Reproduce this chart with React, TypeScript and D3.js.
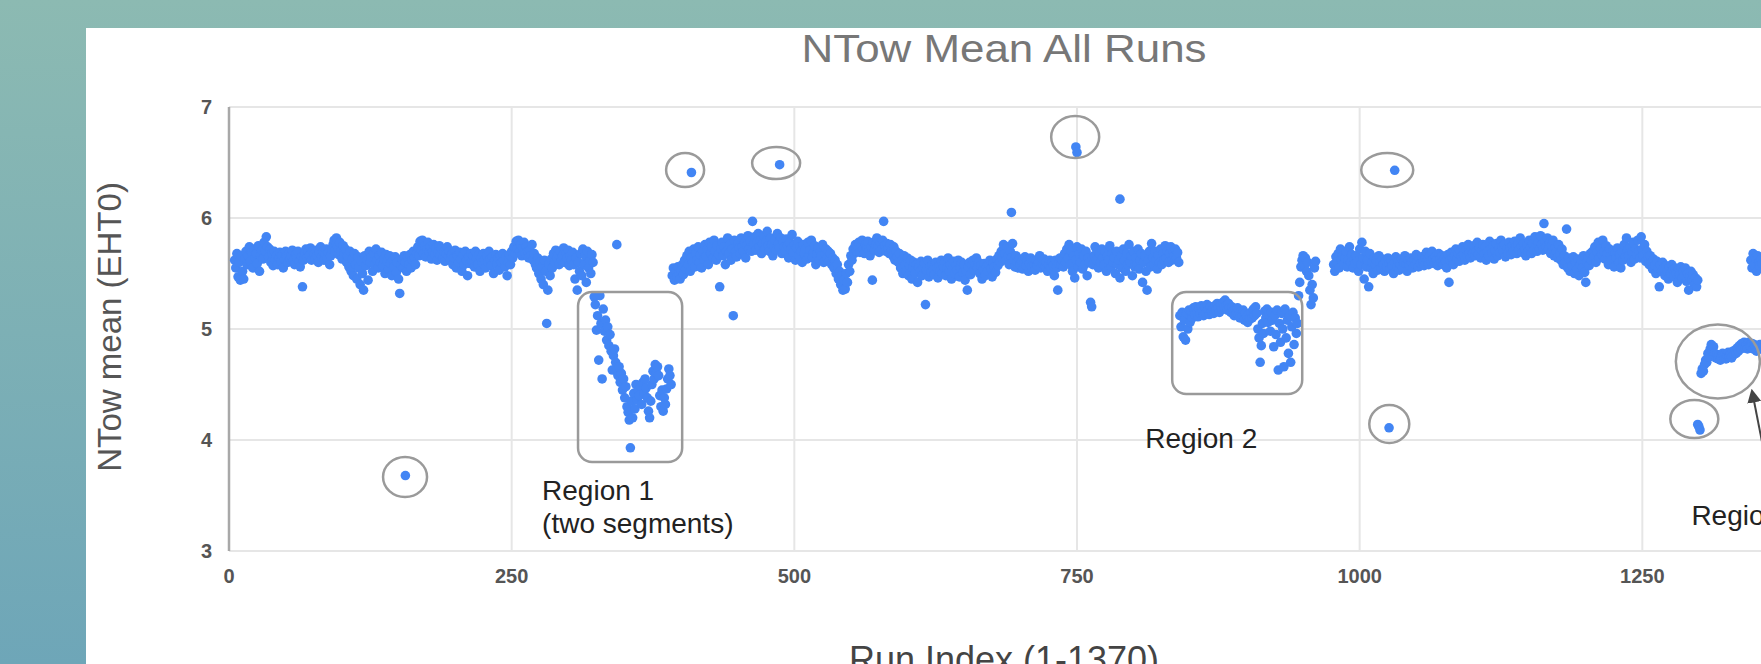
import React from "react";
import * as d3 from "d3";

// ---------- data (run index -> NTow mean) ----------
const xTicks = [0, 250, 500, 750, 1000, 1250];
const yTicks = [3, 4, 5, 6, 7];

const segAStart = 5;
const segA = [
  5.62, 5.55, 5.68, 5.47, 5.60, 5.44, 5.66, 5.52, 5.45, 5.63,
  5.70, 5.58, 5.66, 5.74, 5.61, 5.69, 5.55, 5.72, 5.64, 5.68,
  5.59, 5.75, 5.52, 5.66, 5.71, 5.63, 5.78, 5.70, 5.83, 5.74,
  5.65, 5.72, 5.60, 5.68, 5.57, 5.70, 5.62, 5.66, 5.58, 5.64,
  5.69, 5.61, 5.67, 5.55, 5.63, 5.70, 5.65, 5.60, 5.68, 5.63,
  5.66, 5.71, 5.62, 5.58, 5.67, 5.64, 5.70, 5.61, 5.56, 5.65,
  5.38, 5.62, 5.68, 5.72, 5.64, 5.69, 5.66, 5.73, 5.62, 5.70,
  5.67, 5.63, 5.71, 5.66, 5.60, 5.69, 5.74, 5.65, 5.70, 5.62,
  5.68, 5.72, 5.64, 5.69, 5.58, 5.66, 5.72, 5.76, 5.80, 5.71,
  5.82, 5.74, 5.67, 5.78, 5.70, 5.63, 5.75, 5.68, 5.72, 5.60,
  5.66, 5.56, 5.70, 5.52, 5.63, 5.48, 5.68, 5.58, 5.45, 5.65,
  5.55, 5.40, 5.61, 5.50, 5.35, 5.66, 5.57, 5.62, 5.44, 5.70,
  5.60, 5.65, 5.52, 5.68, 5.58, 5.72, 5.62, 5.55, 5.66, 5.60,
  5.69, 5.57, 5.63, 5.50, 5.67, 5.61, 5.54, 5.66, 5.59, 5.48,
  5.62, 5.56, 5.65, 5.51, 5.60, 5.45, 5.32, 5.58, 5.63, 5.55,
  5.66, 5.60, 5.52, 5.64, 5.58, 5.67, 5.55, 5.62, 5.70, 5.64,
  5.58, 5.68, 5.74, 5.66, 5.79, 5.71, 5.80, 5.68, 5.75, 5.65,
  5.72, 5.78, 5.69, 5.74, 5.63, 5.70, 5.76, 5.67, 5.73, 5.62,
  5.69, 5.75, 5.66, 5.72, 5.64, 5.70, 5.61, 5.68, 5.74, 5.65,
  5.70, 5.62, 5.67, 5.58, 5.64, 5.71, 5.55, 5.66, 5.60, 5.69,
  5.63, 5.52, 5.67, 5.58, 5.70, 5.62, 5.48, 5.65, 5.59, 5.68,
  5.61, 5.66, 5.56, 5.70, 5.63, 5.58, 5.67, 5.52, 5.64, 5.60,
  5.68, 5.62, 5.55, 5.66, 5.60, 5.70, 5.63, 5.57, 5.65, 5.50,
  5.62, 5.67, 5.58, 5.64, 5.53, 5.66, 5.60, 5.68, 5.62, 5.56,
  5.65, 5.48, 5.60, 5.67, 5.58, 5.70, 5.64, 5.74, 5.68, 5.79,
  5.72, 5.80, 5.70, 5.76, 5.66, 5.73, 5.78, 5.68, 5.74, 5.70,
  5.64, 5.71, 5.66, 5.76, 5.62, 5.68, 5.58, 5.55, 5.64, 5.50,
  5.60, 5.45, 5.56, 5.40, 5.62, 5.52, 5.05, 5.35, 5.58, 5.48,
  5.63, 5.55, 5.68, 5.60, 5.71, 5.64, 5.67, 5.58, 5.70, 5.62,
  5.66, 5.73, 5.60, 5.68, 5.64, 5.71, 5.57, 5.66, 5.62, 5.69,
  5.58, 5.45, 5.64, 5.35, 5.60, 5.52, 5.68, 5.48, 5.72, 5.58,
  5.66, 5.42, 5.70, 5.55, 5.62, 5.50, 5.67, 5.60,
];

const region1Start = 323;
const region1 = [
  5.29, 5.22, 4.99, 5.12, 4.72, 5.30, 5.05, 4.55, 5.18, 4.98,
  5.08, 4.90, 5.02, 4.85, 4.95, 4.80, 4.63, 4.76, 4.82, 4.70,
  4.62, 4.58, 4.66, 4.52, 4.60, 4.45, 4.55, 4.38, 4.48, 4.30,
  4.25, 4.18, 3.93, 4.35, 4.20, 4.42, 4.28, 4.50, 4.36, 4.45,
  4.40, 4.48, 4.32, 4.52, 4.42, 4.55, 4.47, 4.38, 4.26, 4.20,
  4.35, 4.50, 4.62, 4.55, 4.68, 4.60, 4.66, 4.58, 4.40, 4.30,
  4.45, 4.26, 4.38, 4.32, 4.46, 4.55, 4.64, 4.58, 4.50,
];

const segBStart = 392;
const segB = [
  5.48, 5.55, 5.44, 5.52, 5.47, 5.56, 5.50, 5.45, 5.53, 5.58,
  5.49, 5.62, 5.54, 5.66, 5.58, 5.70, 5.52, 5.64, 5.60, 5.72,
  5.56, 5.68, 5.62, 5.74, 5.60, 5.67, 5.55, 5.70, 5.63, 5.76,
  5.66, 5.72, 5.58, 5.78, 5.68, 5.74, 5.64, 5.80, 5.70, 5.62,
  5.75, 5.67, 5.38, 5.72, 5.78, 5.66, 5.74, 5.58, 5.70, 5.82,
  5.68, 5.76, 5.62, 5.72, 5.12, 5.80, 5.70, 5.65, 5.77, 5.73,
  5.68, 5.82, 5.74, 5.70, 5.78, 5.64, 5.75, 5.84, 5.72, 5.79,
  5.70, 5.97, 5.76, 5.83, 5.71, 5.78, 5.86, 5.74, 5.80, 5.68,
  5.77, 5.84, 5.72, 5.79, 5.88, 5.75, 5.70, 5.82, 5.76, 5.66,
  5.74, 5.80, 5.71, 5.86, 5.77, 5.73, 5.82, 5.68, 5.79, 5.74,
  5.70, 5.81, 5.75, 5.64, 5.78, 5.72, 5.85, 5.69, 5.76, 5.62,
  5.73, 5.79, 5.66, 5.74, 5.70, 5.60, 5.76, 5.68, 5.72, 5.63,
  5.78, 5.66, 5.71, 5.80, 5.64, 5.69, 5.75, 5.58, 5.67, 5.73,
  5.62, 5.70, 5.66, 5.76, 5.60, 5.68, 5.72, 5.64, 5.70, 5.62,
  5.68, 5.58, 5.64, 5.55, 5.62, 5.50, 5.58, 5.45, 5.52, 5.40,
  5.48, 5.35, 5.44, 5.36, 5.50, 5.42, 5.58, 5.52, 5.66, 5.62,
  5.72, 5.68, 5.76, 5.70, 5.74, 5.78, 5.69, 5.75, 5.80, 5.72,
  5.68, 5.76, 5.73, 5.79, 5.70, 5.66, 5.74, 5.44, 5.78, 5.71,
  5.76, 5.82, 5.74, 5.69, 5.78, 5.72, 5.80, 5.97, 5.75, 5.70,
  5.77, 5.73, 5.68, 5.76, 5.71, 5.66, 5.74, 5.62, 5.70, 5.65,
  5.60, 5.68, 5.55, 5.62, 5.50, 5.66, 5.58, 5.52, 5.64, 5.48,
  5.57, 5.62, 5.45, 5.55, 5.60, 5.50, 5.58, 5.42, 5.56, 5.52,
  5.61, 5.48, 5.55, 5.59, 5.22, 5.53, 5.62, 5.47, 5.56, 5.51,
  5.58, 5.54, 5.49, 5.60, 5.55, 5.46, 5.57, 5.52, 5.62, 5.50,
  5.56, 5.60, 5.48, 5.55, 5.64, 5.52, 5.58, 5.45, 5.54, 5.61,
  5.50, 5.57, 5.53, 5.62, 5.47, 5.55, 5.60, 5.51, 5.58, 5.44,
  5.52, 5.35, 5.56, 5.60, 5.49, 5.57, 5.62, 5.53, 5.58, 5.64,
  5.55, 5.60, 5.50, 5.57, 5.45, 5.53, 5.59, 5.48, 5.56, 5.52,
  5.58, 5.62, 5.54, 5.47, 5.60, 5.56, 5.51, 5.63, 5.57, 5.66,
  5.60, 5.70, 5.64, 5.76, 5.68, 5.62, 5.74, 5.66, 5.58, 5.70,
  5.64, 5.77, 5.62, 5.56, 5.66, 5.60, 5.55, 5.63, 5.58, 5.61,
  5.54, 5.60, 5.65, 5.57, 5.62, 5.52, 5.59, 5.64, 5.56, 5.61,
  5.58, 5.53, 5.62, 5.57, 5.60, 5.66, 5.55, 5.61, 5.58, 5.63,
  5.56, 5.60, 5.52, 5.58, 5.62, 5.55, 5.60, 5.57, 5.48, 5.62,
  5.55, 5.35, 5.59, 5.64, 5.58, 5.62, 5.56, 5.68, 5.60, 5.72,
  5.64, 5.76, 5.58, 5.70, 5.52, 5.66, 5.46, 5.62, 5.74, 5.56,
  5.68, 5.60, 5.72, 5.54, 5.66, 5.58, 5.70, 5.48, 5.64, 5.60,
  5.24, 5.20, 5.58, 5.66, 5.74, 5.62, 5.70, 5.55, 5.68, 5.60,
  5.72, 5.64, 5.58, 5.70, 5.52, 5.66, 5.62, 5.75, 5.56, 5.68,
  5.60, 5.64, 5.50, 5.70, 5.58, 5.62, 5.46, 5.66, 5.55, 5.72,
  5.62, 5.52, 5.68, 5.58, 5.76, 5.60, 5.66, 5.48, 5.70, 5.56,
  5.64, 5.58, 5.72, 5.54, 5.62, 5.68, 5.42, 5.60, 5.66, 5.52,
  5.35, 5.62, 5.70, 5.56, 5.77, 5.64, 5.58, 5.70, 5.62, 5.54,
  5.66, 5.60, 5.72, 5.58, 5.68, 5.62, 5.75, 5.64, 5.70, 5.60,
  5.68, 5.74, 5.62, 5.70, 5.66, 5.72, 5.64, 5.69, 5.60,
];

const region2Start = 841;
const region2 = [
  5.12, 5.02, 5.15, 4.93, 5.08, 4.90, 5.14, 5.00, 5.17, 5.06,
  5.16, 5.10, 5.19, 5.13, 5.20, 5.15, 5.11, 5.18, 5.14, 5.21,
  5.16, 5.12, 5.19, 5.14, 5.22, 5.17, 5.13, 5.20, 5.16, 5.18,
  5.14, 5.21, 5.17, 5.23, 5.19, 5.15, 5.22, 5.18, 5.24, 5.20,
  5.26, 5.21, 5.17, 5.23, 5.19, 5.15, 5.20, 5.16, 5.12, 5.18,
  5.14, 5.19, 5.13, 5.10, 5.16, 5.12, 5.17, 5.08, 5.14, 5.11,
  5.06, 5.13, 5.09, 5.15, 5.10, 5.18, 5.12, 5.20, 5.14, 5.00,
  4.92, 4.70, 4.85, 5.05, 4.96, 5.16, 5.10, 5.18, 5.06, 5.13,
  4.98, 5.15, 5.08, 4.84, 5.12, 4.95, 5.17, 4.63, 5.05, 4.88,
  5.14, 5.00, 4.66, 5.18, 4.92, 5.08, 4.78, 5.12, 4.70, 5.02,
  5.15, 4.86, 5.10, 4.96, 5.05,
];

const postR2Start = 946;
const postR2 = [
  5.30, 5.42, 5.56, 5.62, 5.66, 5.58, 5.64, 5.52, 5.60, 5.48,
  5.35, 5.22, 5.40, 5.28, 5.55, 5.61,
];

const segCStart = 977;
const segC = [
  5.58, 5.52, 5.65, 5.60, 5.68, 5.55, 5.72, 5.62, 5.66, 5.58,
  5.64, 5.70, 5.56, 5.62, 5.74, 5.60, 5.67, 5.55, 5.63, 5.59,
  5.66, 5.61, 5.52, 5.72, 5.58, 5.78, 5.64, 5.45, 5.70, 5.56,
  5.62, 5.38, 5.68, 5.55, 5.60, 5.50, 5.64, 5.58, 5.62, 5.53,
  5.66, 5.60, 5.55, 5.63, 5.58, 5.52, 5.61, 5.56, 5.64, 5.59,
  5.54, 5.62, 5.57, 5.50, 5.60, 5.65, 5.56, 5.61, 5.53, 5.58,
  5.63, 5.55, 5.60, 5.66, 5.58, 5.52, 5.62, 5.57, 5.64, 5.60,
  5.55, 5.62, 5.58, 5.67, 5.61, 5.56, 5.63, 5.59, 5.65, 5.60,
  5.57, 5.64, 5.69, 5.62, 5.58, 5.66, 5.61, 5.70, 5.63, 5.59,
  5.65, 5.62, 5.57, 5.68, 5.63, 5.60, 5.66, 5.58, 5.64, 5.61,
  5.55, 5.67, 5.42, 5.62, 5.69, 5.64, 5.58, 5.66, 5.72, 5.63,
  5.68, 5.61, 5.70, 5.65, 5.74, 5.67, 5.62, 5.71, 5.66, 5.76,
  5.69, 5.64, 5.72, 5.68, 5.75, 5.66, 5.70, 5.78, 5.67, 5.73,
  5.64, 5.71, 5.76, 5.68, 5.74, 5.62, 5.70, 5.66, 5.79, 5.72,
  5.68, 5.75, 5.63, 5.71, 5.77, 5.66, 5.73, 5.69, 5.80, 5.74,
  5.70, 5.76, 5.65, 5.72, 5.68, 5.78, 5.73, 5.67, 5.75, 5.70,
  5.79, 5.74, 5.68, 5.76, 5.71, 5.82, 5.74, 5.69, 5.77, 5.72,
  5.66, 5.75, 5.70, 5.80, 5.73, 5.68, 5.77, 5.71, 5.83, 5.75,
  5.70, 5.78, 5.72, 5.84, 5.76, 5.71, 5.95, 5.79, 5.74, 5.82,
  5.72, 5.78, 5.68, 5.75, 5.80, 5.66, 5.73, 5.70, 5.64, 5.76,
  5.68, 5.62, 5.72, 5.58, 5.66, 5.60, 5.90, 5.55, 5.64, 5.52,
  5.61, 5.57, 5.65, 5.50, 5.60, 5.54, 5.63, 5.48, 5.58, 5.62,
  5.55, 5.66, 5.51, 5.42, 5.60, 5.64, 5.57, 5.68, 5.62, 5.70,
  5.65, 5.74, 5.60, 5.69, 5.78, 5.64, 5.72, 5.67, 5.80, 5.70,
  5.63, 5.75, 5.68, 5.58, 5.72, 5.66, 5.62, 5.70, 5.56, 5.68,
  5.64, 5.73, 5.60, 5.67, 5.55, 5.70, 5.62, 5.76, 5.65, 5.82,
  5.71, 5.66, 5.74, 5.60, 5.69, 5.78, 5.63, 5.72, 5.67, 5.80,
  5.70, 5.64, 5.83, 5.72, 5.66, 5.76, 5.61, 5.70, 5.65, 5.58,
  5.66, 5.60, 5.54, 5.63, 5.57, 5.50, 5.61, 5.55, 5.38, 5.58,
  5.52, 5.60, 5.55, 5.48, 5.57, 5.52, 5.45, 5.56, 5.50, 5.58,
  5.53, 5.47, 5.55, 5.50, 5.42, 5.54, 5.49, 5.56, 5.46, 5.52,
  5.48, 5.55, 5.43, 5.50, 5.35, 5.47, 5.52, 5.44, 5.49, 5.40,
  5.46, 5.38, 5.44,
];

const region3Start = 1302;
const region3 = [
  4.60, 4.64, 4.62, 4.68, 4.72, 4.70, 4.78, 4.75, 4.82, 4.86,
  4.80, 4.84, 4.78, 4.74, 4.77, 4.73, 4.76, 4.72, 4.75, 4.78,
  4.74, 4.77, 4.73, 4.76, 4.79, 4.75, 4.78, 4.74, 4.80, 4.77,
  4.81, 4.78, 4.83, 4.80, 4.85, 4.82, 4.87, 4.84, 4.88, 4.83,
  4.86, 4.82, 4.88, 4.85, 4.84, 4.87, 4.82, 4.86, 4.84, 4.80,
  4.85, 4.82, 4.86, 4.83,
];

const tailStart = 1346;
const tail = [5.62, 5.55, 5.68, 5.58, 5.64, 5.52, 5.66, 5.60, 5.57, 5.63, 5.59];

const outlierRuns = [156, 343, 409, 487, 692, 749, 750, 788, 1026, 1031, 1299, 1300, 1301];
const outlierValues = [3.68, 5.76, 6.41, 6.48, 6.05, 6.64, 6.59, 6.17, 4.11, 6.43, 4.14, 4.12, 4.09];

// annotation ellipses: centre in data space (run, value)
const ringRuns = [155.7, 403.4, 483.9, 748.4, 1024.4, 1026.2, 1296, 1316.8];
const ringValues = [3.667, 6.432, 6.495, 6.73, 6.432, 4.144, 4.189, 4.707];
const ringRx = [22, 19, 24, 24, 26, 20, 24, 42];
const ringRy = [20, 17, 16, 21, 17, 19, 19, 37];

// region boxes [run0, run1], [valueTop, valueBottom]
const boxRuns = [[308.7, 400.8], [834.2, 949.2]];
const boxValues = [[5.333, 3.802], [5.333, 4.414]];

const labelLines = ["Region 1", "(two segments)", "Region 2", "Region 3"];
const labelRuns = [276.9, 276.9, 810.3, 1293.4];
const labelValues = [3.459, 3.162, 3.928, 3.234];

const W = 1761;
const H = 664;
const FONT = "'Liberation Sans', Arial, sans-serif";

function segment(start: number, vals: number[]) {
  return vals.map((v, i) => ({ run: start + i, v }));
}

export default function App() {
  const x = d3.scaleLinear().domain([0, 1370]).range([229, 1778]);
  const y = d3.scaleLinear().domain([3, 7]).range([551, 107]);

  const points = [
    ...segment(segAStart, segA),
    ...segment(region1Start, region1),
    ...segment(segBStart, segB),
    ...segment(region2Start, region2),
    ...segment(postR2Start, postR2),
    ...segment(segCStart, segC),
    ...segment(region3Start, region3),
    ...segment(tailStart, tail),
    ...outlierRuns.map((r, i) => ({ run: r, v: outlierValues[i] })),
  ];

  return (
    <svg
      width={W}
      height={H}
      style={{ position: "fixed", left: 0, top: 0, display: "block" }}
      fontFamily={FONT}
    >
      <defs>
        <linearGradient id="bg" x1="0" y1="0" x2="0" y2="1">
          <stop offset="0%" stopColor="#8cbab2" />
          <stop offset="100%" stopColor="#6ea6b8" />
        </linearGradient>
        <marker id="arrowHead" viewBox="0 0 10 10" refX="1" refY="5" markerWidth="7" markerHeight="7" orient="auto-start-reverse">
          <path d="M0,0 L10,5 L0,10 z" fill="#444" />
        </marker>
      </defs>
      <rect x={0} y={0} width={W} height={H} fill="url(#bg)" />
      <rect x={86} y={28} width={W - 86} height={H - 28} fill="#ffffff" />

      {/* gridlines */}
      {yTicks.map((t) => (
        <line key={"gy" + t} x1={x(0)} x2={W} y1={y(t)} y2={y(t)} stroke="#e6e6e6" strokeWidth={2} />
      ))}
      {xTicks.filter((t) => t > 0).map((t) => (
        <line key={"gx" + t} x1={x(t)} x2={x(t)} y1={y(7)} y2={y(3)} stroke="#e6e6e6" strokeWidth={2} />
      ))}
      <line x1={x(0)} x2={x(0)} y1={y(7)} y2={y(3)} stroke="#a8a8a8" strokeWidth={2.5} />

      {/* tick labels */}
      {yTicks.map((t) => (
        <text key={"ty" + t} x={212} y={y(t)} dy="0.36em" textAnchor="end" fontSize={20} fontWeight="bold" fill="#555">
          {t}
        </text>
      ))}
      {xTicks.map((t) => (
        <text key={"tx" + t} x={x(t)} y={576} dy="0.36em" textAnchor="middle" fontSize={20} fontWeight="bold" fill="#555">
          {t}
        </text>
      ))}

      {/* points */}
      {points.map((p, i) => (
        <circle key={"p" + i} cx={x(p.run)} cy={y(p.v)} r={4.8} fill="#4285f4" />
      ))}

      {/* annotations */}
      {ringRuns.map((r, i) => (
        <ellipse key={"ring" + i} cx={x(r)} cy={y(ringValues[i])} rx={ringRx[i]} ry={ringRy[i]} fill="none" stroke="#9a9a9a" strokeWidth={2.5} />
      ))}
      {boxRuns.map((b, i) => (
        <rect
          key={"box" + i}
          x={x(b[0])}
          y={y(boxValues[i][0])}
          width={x(b[1]) - x(b[0])}
          height={y(boxValues[i][1]) - y(boxValues[i][0])}
          rx={14}
          fill="none"
          stroke="#9a9a9a"
          strokeWidth={2.5}
        />
      ))}
      <line x1={1766} y1={462} x2={1754} y2={401} stroke="#444" strokeWidth={2} markerEnd="url(#arrowHead)" />
      {labelLines.map((t, i) => (
        <text key={"lab" + i} x={x(labelRuns[i])} y={y(labelValues[i])} fontSize={28} fill="#222">
          {t}
        </text>
      ))}

      {/* titles */}
      <text x={1004} y={62} textAnchor="middle" fontSize={38} fill="#777" textLength={405} lengthAdjust="spacingAndGlyphs">
        NTow Mean All Runs
      </text>
      <text transform="translate(121,327) rotate(-90)" textAnchor="middle" fontSize={33} fill="#555">
        NTow mean (EHT0)
      </text>
      <text x={1004} y={672} textAnchor="middle" fontSize={36} fill="#444">
        Run Index (1-1370)
      </text>
    </svg>
  );
}
